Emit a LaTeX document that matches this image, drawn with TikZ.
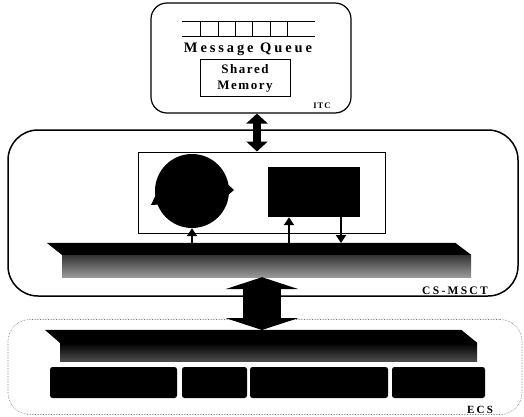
\documentclass[tikz,border=0pt]{standalone}
\usepackage{fontspec}
\setmainfont{Liberation Serif}
\newfontfamily\spaced[LetterSpace=12]{Liberation Serif}
\newfontfamily\wide[LetterSpace=20]{Liberation Serif}
\usetikzlibrary{arrows.meta, calc, positioning}
\tikzset{
  layerbox/.style={draw, line width=1.2pt, inner sep=0},
  lbl/.style={font=\spaced\bfseries, inner sep=0, anchor=base},
  qline/.style={line width=1pt},
  busfront/.style={inner sep=0, top color=black!80, bottom color=black!40},
  ecsblock/.style={fill=black, rounded corners=2.5pt, inner sep=0, minimum height=31pt},
  fatarrow/.style={line width=38pt, {Triangle[length=12pt,width=73pt]}-{Triangle[length=12pt,width=73pt]}},
  midarrow/.style={line width=8pt, {Triangle[length=10pt,width=21pt]}-{Triangle[length=10pt,width=21pt]}},
  tinyarrow/.style={line width=2.5pt, -{Triangle[length=8pt,width=10pt]}},
}
\begin{document}
\begin{tikzpicture}[x=1pt,y=-1pt]
  \useasboundingbox (0,0) rectangle (524,417);
  % ITC layer
  \node[layerbox, rounded corners=16pt, minimum width=200pt, minimum height=110pt] (itc) at (251,58) {};
  \draw[qline] (182,22) -- (315,22) (182,37) -- (315,37);
  \foreach \x in {200,218,235,252,270,287} \draw[qline] (\x,22) -- (\x,37);
  \node[lbl, font=\wide\bfseries\fontsize{14.5}{16}\selectfont] (mq) at (248,53) {Message Queue};
  \node[draw, line width=1pt, minimum width=90pt, minimum height=37pt, align=center, inner sep=0,
        font=\spaced\bfseries\fontsize{13}{16}\selectfont] (shm) at (245,78.5) {Shared\\Memory};
  \node[lbl, font=\spaced\bfseries\fontsize{8.5}{9}\selectfont] (itcl) at (322,109) {ITC};
  % CS-MSCT layer
  \node[layerbox, line width=1.5pt, rounded corners=30pt, minimum width=510pt, minimum height=166pt] (msct) at (263,213) {};
  \node[draw, line width=1pt, minimum width=247pt, minimum height=81pt, inner sep=0] (proc) at (261.5,192.5) {};
  \node[circle, fill, minimum size=74pt, inner sep=0] (cyc) at (192,191) {};
  \fill (151,205) -- (160,186) -- (167,204) -- cycle;
  \fill (234,190) -- (223,180) -- (221,201) -- cycle;
  \node[fill, minimum width=92pt, minimum height=50pt, inner sep=0] (task) at (314,192) {};
  \node[busfront, minimum width=409pt, minimum height=22pt] (bus1) at (266.5,266) {};
  \fill (bus1.north west) -- (bus1.north east) -- ++(-16,-12) -- ($(bus1.north west)+(-15,-12)$) -- cycle;
  \node[lbl, font=\wide\bfseries\fontsize{11.5}{12}\selectfont] (msctl) at (455,294) {CS-MSCT};
  % ECS layer
  \node[layerbox, line width=0.6pt, draw=black!55, densely dotted, rounded corners=22pt, minimum width=514pt, minimum height=95pt] (ecs) at (265,367) {};
  \node[busfront, top color=black, bottom color=black!70, minimum width=417pt, minimum height=18pt] (bus2) at (268.5,352) {};
  \fill (bus2.north west) -- (bus2.north east) -- ++(-16,-13) -- ($(bus2.north west)+(-15,-13)$) -- cycle;
  \foreach \a/\b [count=\i] in {50/177,182/247,250/388,392/485}
    \node[ecsblock, minimum width={(\b-\a)*1pt}] (blk\i) at ({(\a+\b)/2},382.5) {};
  \node[lbl, font=\wide\bfseries\fontsize{11}{12}\selectfont] (ecsl) at (480,413) {ECS};
  % connectors
  \coordinate (ax) at (257,0);
  \coordinate (bx) at (262,0);
  \coordinate (b1top) at (0,243);
  \coordinate (b2top) at (0,330);
  \coordinate (m) at (289,243);
  \coordinate (r) at (341,243);
  \draw[midarrow] (itc.south -| ax) -- (proc.north -| ax);
  \draw[tinyarrow] (cyc.south |- b1top) -- (cyc.south);
  \draw[tinyarrow] (m) -- (m |- task.south);
  \draw[tinyarrow] (r |- task.south) -- (r);
  \draw[fatarrow] (bus1.south -| bx) -- (bx |- b2top);
\end{tikzpicture}
\end{document}
